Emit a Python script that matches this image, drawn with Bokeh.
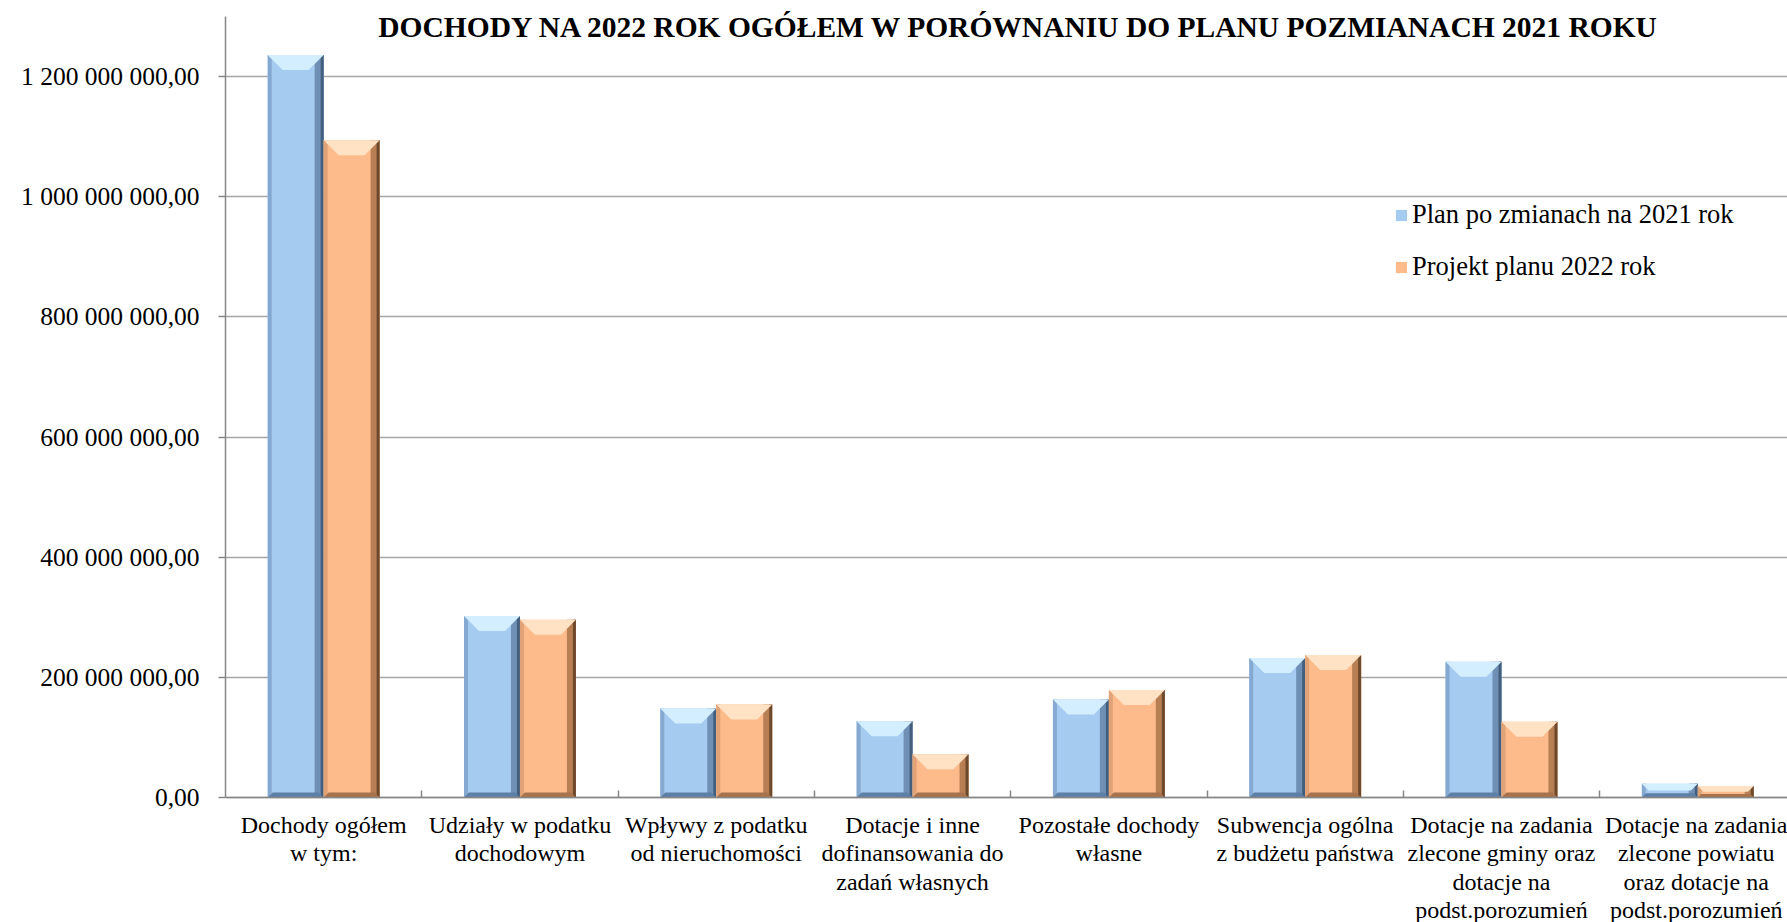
import numpy as np
from bokeh.plotting import figure
from bokeh.models import Range1d, FixedTicker, Label, Legend, LegendItem
from bokeh.embed import file_html
from bokeh.resources import INLINE

# ---------------- data ----------------
categories = [
    "Dochody ogółem\nw tym:",
    "Udziały w podatku\ndochodowym",
    "Wpływy z podatku\nod nieruchomości",
    "Dotacje i inne\ndofinansowania do\nzadań własnych",
    "Pozostałe dochody\nwłasne",
    "Subwencja ogólna\nz budżetu państwa",
    "Dotacje na zadania\nzlecone gminy oraz\ndotacje na\npodst.porozumień",
    "Dotacje na zadania\nzlecone powiatu\noraz dotacje na\npodst.porozumień",
]
plan_2021 = [1_236_000_000, 302_000_000, 148_000_000, 127_000_000,
             163_000_000, 232_000_000, 226_000_000, 23_000_000]
projekt_2022 = [1_094_000_000, 296_000_000, 155_000_000, 72_000_000,
                179_000_000, 237_000_000, 126_000_000, 19_000_000]
series_names = ["Plan po zmianach na 2021 rok", "Projekt planu 2022 rok"]
y_tick_values = [0, 200_000_000, 400_000_000, 600_000_000,
                 800_000_000, 1_000_000_000, 1_200_000_000]
y_tick_labels = ["0,00", "200 000 000,00", "400 000 000,00", "600 000 000,00",
                 "800 000 000,00", "1 000 000 000,00", "1 200 000 000,00"]
title_text = "DOCHODY NA 2022 ROK OGÓŁEM W PORÓWNANIU DO PLANU POZMIANACH 2021 ROKU"

# ---------------- layout ----------------
W, H = 1787, 922
BL = 225
AX_TOP = 16          # pixel row of the top of the value axis
AX_ZERO = 797        # pixel row of the zero line
y_max = 1_300_000_000
per_px = y_max / (AX_ZERO - AX_TOP)
y_end = y_max + AX_TOP * per_px
y_start = -(H - AX_ZERO) * per_px
n = len(categories)
x_end = n - 0.043          # the last category is slightly cut at the right edge
fw = W - BL

FONT = "Liberation Serif"
AXIS_GRAY = "#868686"
GRID_GRAY = "#A6A6A6"

p = figure(width=W, height=H, output_backend="svg", toolbar_location=None,
           x_range=Range1d(0, x_end), y_range=Range1d(y_start, y_end),
           min_border_left=BL, min_border_right=0,
           min_border_top=0, min_border_bottom=0)
p.outline_line_color = None
p.background_fill_color = "white"
p.border_fill_color = "white"

centers = np.arange(n) + 0.5
bar_w = 0.285
xpx = x_end / fw      # data units per pixel (x)
ypx = per_px          # data units per pixel (y)

# ---------------- axes ----------------
xt = FixedTicker(ticks=[float(c) for c in centers], minor_ticks=list(range(1, n)))
p.xaxis.fixed_location = 0
p.xaxis.ticker = xt
p.xaxis.major_label_overrides = {float(c): lab for c, lab in zip(centers, categories)}
p.xaxis.major_tick_in = 0
p.xaxis.major_tick_out = 0
p.xaxis.minor_tick_in = 7
p.xaxis.minor_tick_out = 0
p.xaxis.minor_tick_line_color = AXIS_GRAY
p.xaxis.minor_tick_line_width = 1.5
p.xaxis.axis_line_color = AXIS_GRAY
p.xaxis.axis_line_width = 1.5
p.xaxis.major_label_text_font = FONT
p.xaxis.major_label_text_font_size = "24px"
p.xaxis.major_label_text_color = "black"
p.xaxis.major_label_text_line_height = 1.1
p.xaxis.major_label_standoff = 14
p.xgrid.visible = False

yt = FixedTicker(ticks=y_tick_values, minor_ticks=[])
p.yaxis.ticker = yt
p.yaxis.bounds = (0, y_max)
p.yaxis.major_label_overrides = {v: lab for v, lab in zip(y_tick_values, y_tick_labels)}
p.yaxis.major_tick_out = 7
p.yaxis.major_tick_in = 0
p.yaxis.minor_tick_line_color = None
p.yaxis.major_tick_line_color = AXIS_GRAY
p.yaxis.major_tick_line_width = 1.5
p.yaxis.axis_line_color = AXIS_GRAY
p.yaxis.axis_line_width = 1.5
p.yaxis.major_label_text_font = FONT
p.yaxis.major_label_text_font_size = "25.5px"
p.yaxis.major_label_text_color = "black"
p.yaxis.major_label_standoff = 19
p.ygrid.ticker = yt
p.ygrid.grid_line_color = GRID_GRAY
p.ygrid.grid_line_width = 1.5

# ---------------- bars with bevel ----------------
styles = [
    dict(main="#A6CBF0", light="#D2EEFF", left="#86A9D1", dark1="#6F8FB5", dark2="#445E7E", bottom="#5E7FA6"),
    dict(main="#FDBB8C", light="#FFE1C4", left="#E0A277", dark1="#B87F55", dark2="#6E4A2C", bottom="#A8724C"),
]
offsets = [-bar_w / 2, bar_w / 2]
main_renderers = []
for vals, off, st in zip([plan_2021, projekt_2022], offsets, styles):
    v = np.asarray(vals, dtype=float)
    xc = centers + off
    L = xc - bar_w / 2
    R = xc + bar_w / 2
    r = p.vbar(x=xc, width=bar_w, top=v, bottom=0, fill_color=st["main"], line_color=None)
    main_renderers.append(r)
    # left edge
    p.quad(left=L, right=L + 4 * xpx, bottom=0, top=v, fill_color=st["left"], line_color=None)
    # right edge (two-step darkening)
    p.quad(left=R - 9 * xpx, right=R, bottom=0, top=v, fill_color=st["dark1"], line_color=None)
    p.quad(left=R - 3 * xpx, right=R, bottom=0, top=v, fill_color=st["dark2"], line_color=None)
    # bottom bevel
    hpx = v / ypx
    hb = np.minimum(5, hpx * 0.3)
    bxs = [[l, rr, rr - b * xpx, l + b * xpx] for l, rr, b in zip(L, R, hb)]
    bys = [[0, 0, b * ypx, b * ypx] for b in hb]
    p.patches(xs=bxs, ys=bys, fill_color=st["bottom"], line_color=None)
    # top bevel
    ht = np.minimum(15, hpx * 0.5)
    txs = [[l, rr, rr - t * xpx, l + t * xpx] for l, rr, t in zip(L, R, ht)]
    tys = [[top, top, top - t * ypx, top - t * ypx] for top, t in zip(v, ht)]
    p.patches(xs=txs, ys=tys, fill_color=st["light"], line_color=None)

# ---------------- legend ----------------
legend = Legend(items=[LegendItem(label=series_names[0], renderers=[main_renderers[0]]),
                       LegendItem(label=series_names[1], renderers=[main_renderers[1]])],
                location=(1169, 640), orientation="vertical",
                border_line_color=None, background_fill_alpha=0,
                padding=0, margin=0, spacing=21, label_height=26,
                glyph_height=14, glyph_width=14, label_standoff=4,
                label_text_font=FONT, label_text_font_size="26.5px",
                label_text_color="black")
p.add_layout(legend)

# ---------------- title ----------------
title = Label(x=794, y=896, x_units="screen", y_units="screen", text=title_text,
              text_align="center", text_baseline="alphabetic",
              text_font=FONT, text_font_style="bold", text_font_size="29.5px",
              text_color="black")
p.add_layout(title)

open("out.html", "w").write(file_html(p, INLINE))
